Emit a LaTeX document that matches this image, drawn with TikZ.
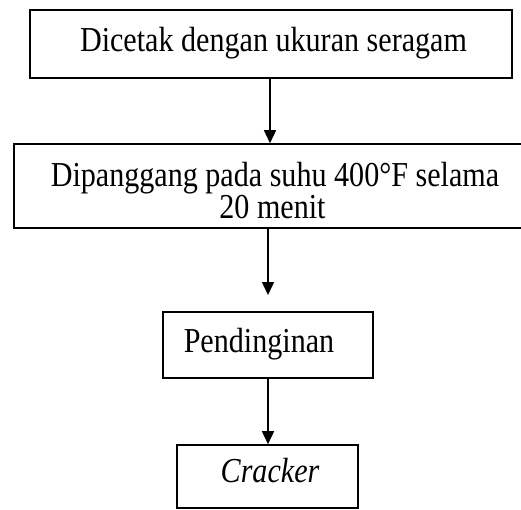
\documentclass[tikz,border=0pt]{standalone}
\usepackage{fontspec}
\usetikzlibrary{arrows.meta}
\newfontfamily\flowfont[FakeStretch=0.86]{Liberation Serif}
\begin{document}
\begin{tikzpicture}[x=1pt,y=1pt,
  stepbox/.style={draw=black, line width=1.6pt, fill=none, inner sep=0pt},
  lbl/.style={font=\flowfont\fontsize{35}{30}\selectfont, inner sep=0pt, anchor=base},
  arr/.style={line width=1.5pt, -{Triangle[length=13pt,width=12pt]}}]
  \useasboundingbox (0,0) rectangle (521,-509);
  \fill[white] (0,0) rectangle (521,-509);

  % process boxes
  \node[stepbox, minimum width=482pt, minimum height=68pt] (b1) at (271,-44) {};
  \node[stepbox, minimum width=516pt, minimum height=84pt] (b2) at (272,-186) {};
  \node[stepbox, minimum width=210pt, minimum height=66.5pt] (b3) at (268,-345) {};
  \node[stepbox, minimum width=181pt, minimum height=63pt] (b4) at (267.5,-476.5) {};

  % box texts
  \node[lbl] (t1) at (273.5,-51) {Dicetak dengan ukuran seragam};
  \node[lbl] (t2a) at (275,-186.5) {Dipanggang pada suhu 400°F selama};
  \node[lbl] (t2b) at (272.5,-218) {20 menit};
  \node[lbl] (t3) at (259,-352) {Pendinginan};
  \node[lbl] (t4) at (270,-482) {\itshape Cracker};

  % connectors
  \coordinate (a1) at (270,0);
  \coordinate (c2) at (268,-295);
  \draw[arr] (b1.south -| a1) -- (b2.north -| a1);
  \draw[arr] (b2.south -| c2) -- (c2);
  \draw[arr] (b3.south -| c2) -- (b4.north -| c2);
\end{tikzpicture}
\end{document}
